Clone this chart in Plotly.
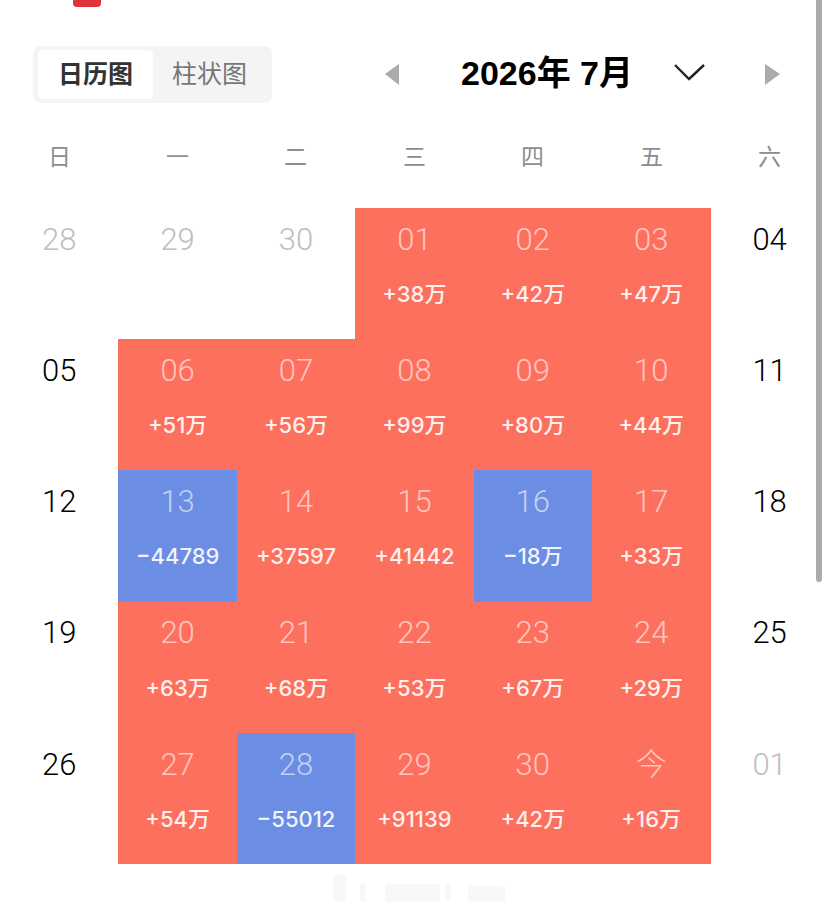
import plotly.graph_objects as go

# calendar grid, week rows top to bottom, Sunday first
weekdays = ['日', '一', '二', '三', '四', '五', '六']

day_labels = [
    ['28', '29', '30', '01', '02', '03', '04'],
    ['05', '06', '07', '08', '09', '10', '11'],
    ['12', '13', '14', '15', '16', '17', '18'],
    ['19', '20', '21', '22', '23', '24', '25'],
    ['26', '27', '28', '29', '30', '今', '01'],
]

value_labels = [
    ['', '', '', '+38万', '+42万', '+47万', ''],
    ['', '+51万', '+56万', '+99万', '+80万', '+44万', ''],
    ['', '−44789', '+37597', '+41442', '−18万', '+33万', ''],
    ['', '+63万', '+68万', '+53万', '+67万', '+29万', ''],
    ['', '+54万', '−55012', '+91139', '+42万', '+16万', ''],
]

# net change behind each cell, None where the day has no value
values = [
    [None, None, None, 380000, 420000, 470000, None],
    [None, 510000, 560000, 990000, 800000, 440000, None],
    [None, -44789, 37597, 41442, -180000, 330000, None],
    [None, 630000, 680000, 530000, 670000, 290000, None],
    [None, 540000, -55012, 91139, 420000, 160000, None],
]

# days that belong to another month
other_month = [(0, 0), (0, 1), (0, 2), (4, 6)]

RED = '#FE705E'
BLUE = '#6B8DE3'

W, H = 824, 910
TOP, BOTTOM = 208, 864
COL_W = 118.4


def px(x):
    return x / W


def py(y):
    return 1 - y / H


def to_path(p):
    # page pixels to paper fractions
    out = []
    for i in range(1, len(p), 2):
        out.append(f'{px(p[i]):.5f},{py(p[i + 1]):.5f}')
    return p[0] + ' '.join(out)


def rounded(x0, y0, x1, y1, r):
    pts = [('M', x0 + r, y0), ('L', x1 - r, y0), ('Q', x1, y0, x1, y0 + r), ('L', x1, y1 - r),
           ('Q', x1, y1, x1 - r, y1), ('L', x0 + r, y1), ('Q', x0, y1, x0, y1 - r),
           ('L', x0, y0 + r), ('Q', x0, y0, x0 + r, y0)]
    return ' '.join(to_path(p) for p in pts) + ' Z'


def poly(points, close=True):
    s = ' '.join(to_path(('M' if i == 0 else 'L', x, y)) for i, (x, y) in enumerate(points))
    return s + (' Z' if close else '')


rows = list(range(len(day_labels)))
cols = list(range(len(weekdays)))

fig = go.Figure()

fig.add_trace(go.Heatmap(
    x=cols, y=rows, z=values,
    zmin=-1, zmax=1,
    colorscale=[[0, BLUE], [0.5, BLUE], [0.5, RED], [1, RED]],
    showscale=False, hoverongaps=False, xgap=0, ygap=0,
))

# the date sits in the upper part of a cell, the value in the lower part
day_x, day_y, day_text, day_color = [], [], [], []
val_x, val_y, val_text = [], [], []
for r in rows:
    for c in cols:
        day_x.append(c)
        day_y.append(r - 0.24)
        day_text.append(day_labels[r][c])
        if (r, c) in other_month:
            day_color.append('#BEBEC0')
        elif values[r][c] is None:
            day_color.append('#000000')
        else:
            day_color.append('rgba(255,255,255,0.62)')
        if value_labels[r][c]:
            val_x.append(c)
            val_y.append(r + 0.175)
            val_text.append(value_labels[r][c])

fig.add_trace(go.Scatter(
    x=day_x, y=day_y, text=day_text, mode='text',
    textposition='middle center',
    textfont=dict(family='Roboto, Noto Sans CJK SC', size=31, color=day_color, weight=300),
    hoverinfo='skip',
))
fig.add_trace(go.Scatter(
    x=val_x, y=val_y, text=val_text, mode='text',
    textposition='middle center',
    textfont=dict(family='Inter, Noto Sans CJK SC', size=22, color='rgba(255,255,255,0.92)', weight=500),
    hoverinfo='skip',
))

shapes = [
    # red tab cut off at the top edge
    dict(type='path', path=rounded(73, -10, 101, 7, 4), fillcolor='#E0343A', line_width=0),
    # switch
    dict(type='path', path=rounded(33, 46, 272, 103, 8), fillcolor='#F4F4F4', line_width=0),
    dict(type='path', path=rounded(38, 50, 153, 99, 5), fillcolor='#FFFFFF', line_width=0),
    # month arrows
    dict(type='path', path=poly([(399, 64), (385, 74), (399, 85)]), fillcolor='#ABABAB', line_width=0),
    dict(type='path', path=poly([(765, 64), (780, 74), (765, 85)]), fillcolor='#ABABAB', line_width=0),
    dict(type='path', path=poly([(675, 65), (689, 79), (704, 65)], close=False),
         line=dict(color='#222222', width=2.4)),
    # scrollbar strip on the right
    dict(type='path', path=rounded(816, -10, 822, 582, 3), fillcolor='#ABABAB', line_width=0),
]
# blurred smudge under the grid
for x0, x1, y0, y1 in [(333, 346, 875, 902), (360, 366, 884, 902), (385, 440, 884, 902),
                       (445, 451, 884, 902), (468, 505, 886, 902)]:
    shapes.append(dict(type='path', path=rounded(x0, y0, x1, y1, 3), fillcolor='#F8F8F8', line_width=0))
for s in shapes:
    s.update(xref='paper', yref='paper', layer='below')

annotations = [
    dict(text='日历图', x=px(95), y=py(72.5), font=dict(size=25, color='#333333', weight=700)),
    dict(text='柱状图', x=px(209), y=py(72.5), font=dict(size=25, color='#777777')),
    dict(text='2026年 7月', x=px(547), y=py(73), font=dict(size=34, color='#000000', weight=700)),
]
for c, name in zip(cols, weekdays):
    annotations.append(dict(text=name, x=px(59 + c * COL_W), y=py(155),
                            font=dict(size=23, color='#8E8E8E')))
for a in annotations:
    a.update(xref='paper', yref='paper', showarrow=False, xanchor='center', yanchor='middle')
    a['font']['family'] = 'Noto Sans CJK SC'
annotations[2]['font']['family'] = 'Liberation Sans, Noto Sans CJK SC'

fig.update_layout(
    width=W, height=H,
    margin=dict(l=0, r=0, t=0, b=0, pad=0),
    paper_bgcolor='white', plot_bgcolor='white',
    showlegend=False,
    shapes=shapes, annotations=annotations,
    xaxis=dict(range=[-0.5, W / COL_W - 0.5], visible=False, fixedrange=True),
    yaxis=dict(range=[len(rows) - 0.5, -0.5], visible=False, fixedrange=True,
               domain=[py(BOTTOM), py(TOP)]),
)

fig.write_html('out.html', config=dict(displayModeBar=False),
               post_script="document.body.style.margin='0';")
